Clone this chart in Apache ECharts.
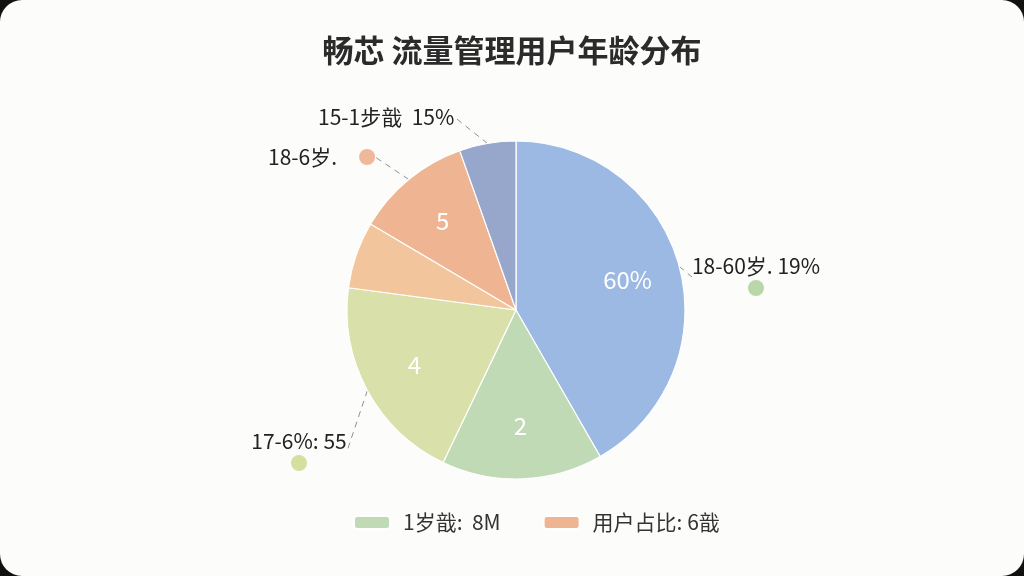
<!DOCTYPE html>
<html>
<head>
<meta charset="utf-8">
<script src="https://cdn.jsdelivr.net/npm/echarts@6/dist/echarts.min.js"></script>
<style>
html,body{margin:0;padding:0;width:1024px;height:576px;background:#111;overflow:hidden;}
#card{position:absolute;left:0;top:0;width:1024px;height:576px;background:#fcfcfa;border-radius:22px;overflow:hidden;}
#chart{width:1024px;height:576px;}
</style>
</head>
<body>
<div id="card"><div id="chart"></div></div>
<script>
const title = '畅芯 流量管理用户年龄分布';
const categories = ['18-60岁', '1岁戠', '17-6%', '6-17岁', '用户占比', '15-1步戠'];
const values = [41.7, 15.4, 20.0, 6.4, 11.1, 5.4];
const innerLabels = ['60%', '2', '4', '', '5', ''];
const outerLabels = ['18-60岁. 19%', '', '17-6%: 55', '', '18-6岁.', '15-1步戠  15%'];
const legendNames = ['1岁戠', '用户占比'];
const legendTexts = {'1岁戠': '1岁戠:  8M', '用户占比': '用户占比: 6戠'};
const colors = ['#9cb9e4', '#c0dab5', '#d9e0a9', '#f2c59c', '#efb593', '#97a6cb'];

const dotColors = ['#b9d7a9', null, '#d6dea0', null, '#f0b89a', null];
const labelPos = [
  {x: 756, y: 252, align: 'center'},
  null,
  {x: 299, y: 427, align: 'center'},
  null,
  {x: 268, y: 143, align: 'left'},
  {x: 318, y: 103, align: 'left'}
];

const chart = echarts.init(document.getElementById('chart'));
const baseData = categories.map((n, i) => ({name: n, value: values[i], itemStyle: {color: colors[i]}}));

chart.setOption({
  animation: false,
  title: {
    text: title, left: 'center', top: 30,
    textStyle: {fontSize: 31, fontWeight: 'bold', color: '#2b2b2b', fontFamily: 'Noto Sans CJK SC'}
  },
  legend: {
    data: legendNames,
    bottom: 38, left: 348,
    icon: 'roundRect', itemWidth: 36, itemHeight: 13, itemGap: 42,
    formatter: n => legendTexts[n],
    textStyle: {fontSize: 21, color: '#333', fontFamily: 'Noto Sans CJK SC', padding: [0, 0, 0, 8]}
  },
  series: [
    {
      type: 'pie', center: [516, 310], radius: 169, startAngle: 90, clockwise: true,
      data: baseData.map((d, i) => {
        const dc = dotColors[i];
        const fmt = outerLabels[i] === '' ? '' :
          (i === 4 ? '{t|' + outerLabels[i] + '}{g|}{d' + i + '|}' :
           dc ? '{t|' + outerLabels[i] + '}\n{d' + i + '|}' : '{t|' + outerLabels[i] + '}');
        return Object.assign({}, d, {
          label: {show: outerLabels[i] !== '', formatter: fmt},
          labelLine: {show: outerLabels[i] !== ''}
        });
      }),
      itemStyle: {borderColor: '#ffffff', borderWidth: 1.2},
      label: {
        position: 'outside', color: '#222', fontSize: 21, fontFamily: 'Noto Sans CJK SC',
        rich: {
          t: {fontSize: 21, color: '#222', fontFamily: 'Noto Sans CJK SC', lineHeight: 28},
          g: {width: 22},
          d0: {width: 16, height: 16, borderRadius: 8, backgroundColor: dotColors[0]},
          d2: {width: 16, height: 16, borderRadius: 8, backgroundColor: dotColors[2]},
          d4: {width: 16, height: 16, borderRadius: 8, backgroundColor: dotColors[4]}
        }
      },
      labelLine: {length: 12, length2: 0, lineStyle: {color: '#8a8f9c', type: [6, 5], width: 1}},
      labelLayout: function (p) {
        const pos = labelPos[p.dataIndex];
        if (!pos) return {};
        return {x: pos.x, y: pos.y, align: pos.align, verticalAlign: 'top'};
      },
      emphasis: {disabled: true}
    },
    {
      type: 'pie', center: [516, 310], radius: [56, 169], startAngle: 90, clockwise: true, silent: true,
      legendHoverLink: false,
      data: baseData.map((d, i) => ({
        name: d.name, value: d.value,
        itemStyle: {color: 'rgba(0,0,0,0)'},
        label: {show: innerLabels[i] !== '', formatter: innerLabels[i]}
      })),
      label: {position: 'inner', color: '#ffffff', fontSize: 24, fontFamily: 'Noto Sans CJK SC'},
      labelLine: {show: false},
      emphasis: {disabled: true}
    }
  ]
});
</script>
</body>
</html>
